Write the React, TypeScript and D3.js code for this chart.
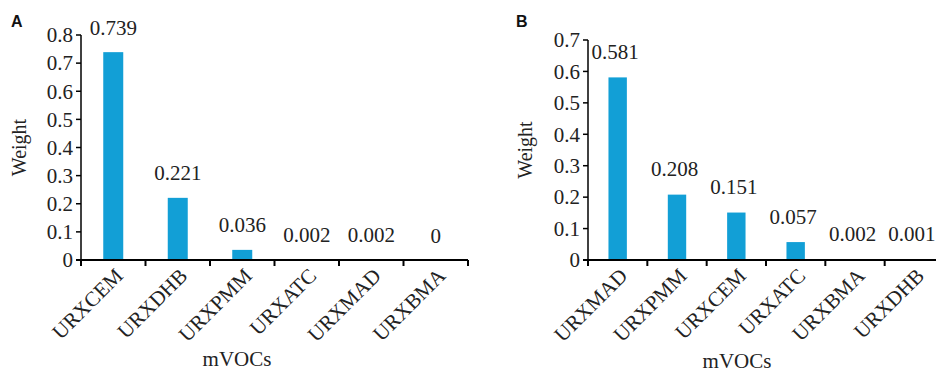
import React from 'react';
import * as d3 from 'd3';

const categoriesA = ['URXCEM', 'URXDHB', 'URXPMM', 'URXATC', 'URXMAD', 'URXBMA'];
const weightsA = [0.739, 0.221, 0.036, 0.002, 0.002, 0];
const valueLabelsA = ['0.739', '0.221', '0.036', '0.002', '0.002', '0'];
const yTicksA = [0, 0.1, 0.2, 0.3, 0.4, 0.5, 0.6, 0.7, 0.8];

const categoriesB = ['URXMAD', 'URXPMM', 'URXCEM', 'URXATC', 'URXBMA', 'URXDHB'];
const weightsB = [0.581, 0.208, 0.151, 0.057, 0.002, 0.001];
const valueLabelsB = ['0.581', '0.208', '0.151', '0.057', '0.002', '0.001'];
const yTicksB = [0, 0.1, 0.2, 0.3, 0.4, 0.5, 0.6, 0.7];

const BAR_COLOR = '#129fd6';
const SERIF = '"Liberation Serif", "Times New Roman", serif';

type PanelProps = {
  letter: string;
  letterX: number;
  categories: string[];
  values: number[];
  valueLabels: string[];
  yTicks: number[];
  yMax: number;
  x0: number;
  x1: number;
  yTop: number;
  yBase: number;
  labelGap: number;
  labelShift: number;
  weightX: number;
  xTitleX: number;
  xTitleY: number;
};

function Panel(p: PanelProps) {
  const x = d3.scaleBand<string>().domain(p.categories).range([p.x0, p.x1]).paddingInner(0).paddingOuter(0);
  const y = d3.scaleLinear().domain([0, p.yMax]).range([p.yBase, p.yTop]);
  const bw = x.bandwidth() * 0.31;
  const bandEdges = p.categories.map((c) => x(c) as number).concat([p.x1]);
  return (
    <g>
      <text x={p.letterX} y={27} fontFamily='"Liberation Sans", Arial, sans-serif' fontWeight="bold" fontSize={16} fill="#111">
        {p.letter}
      </text>
      {p.categories.map((c, i) => {
        const cx = (x(c) as number) + x.bandwidth() / 2;
        return (
          <g key={c}>
            <rect x={cx - bw / 2} y={y(p.values[i])} width={bw} height={p.yBase - y(p.values[i])} fill={BAR_COLOR} />
            <text
              x={cx + p.labelShift}
              y={y(p.values[i]) - p.labelGap}
              textAnchor="middle"
              fontFamily={SERIF}
              fontSize={21}
              fill="#222"
            >
              {p.valueLabels[i]}
            </text>
            <text
              transform={`translate(${cx + 11},${p.yBase + 17}) rotate(-45)`}
              textAnchor="end"
              fontFamily={SERIF}
              fontSize={21}
              fill="#222"
            >
              {c}
            </text>
          </g>
        );
      })}
      <line x1={p.x0} x2={p.x0} y1={p.yTop} y2={p.yBase} stroke="#000" strokeWidth={1.5} />
      {p.yTicks.map((t) => (
        <g key={t}>
          <line x1={p.x0 - 5} x2={p.x0} y1={y(t)} y2={y(t)} stroke="#000" strokeWidth={1.5} />
          <text x={p.x0 - 8} y={y(t)} dy="0.35em" textAnchor="end" fontFamily={SERIF} fontSize={21} fill="#222">
            {String(t)}
          </text>
        </g>
      ))}
      <line x1={p.x0 - 5} x2={p.x1} y1={p.yBase} y2={p.yBase} stroke="#000" strokeWidth={2} />
      {bandEdges.map((e, i) => (
        <line key={i} x1={e} x2={e} y1={p.yBase} y2={p.yBase + 6} stroke="#000" strokeWidth={2} />
      ))}
      <text
        transform={`translate(${p.weightX},${(p.yTop + p.yBase) / 2}) rotate(-90)`}
        textAnchor="middle"
        fontFamily={SERIF}
        fontSize={20}
        fill="#222"
      >
        Weight
      </text>
      <text x={p.xTitleX} y={p.xTitleY} textAnchor="middle" fontFamily={SERIF} fontSize={21} fill="#222">
        mVOCs
      </text>
    </g>
  );
}

export default function App() {
  return (
    <svg width={936} height={373} style={{ position: 'absolute', left: 0, top: 0, background: '#fff' }}>
      <rect x={0} y={0} width={936} height={373} fill="#fff" />
      <Panel
        letter="A"
        letterX={11}
        categories={categoriesA}
        values={weightsA}
        valueLabels={valueLabelsA}
        yTicks={yTicksA}
        yMax={0.8}
        x0={81}
        x1={468}
        yTop={35}
        yBase={260}
        labelGap={17.5}
        labelShift={0}
        weightX={26}
        xTitleX={237}
        xTitleY={366}
      />
      <Panel
        letter="B"
        letterX={516}
        categories={categoriesB}
        values={weightsB}
        valueLabels={valueLabelsB}
        yTicks={yTicksB}
        yMax={0.7}
        x0={588}
        x1={944}
        yTop={40}
        yBase={260}
        labelGap={18.5}
        labelShift={-2.5}
        weightX={532}
        xTitleX={737}
        xTitleY={368}
      />
    </svg>
  );
}
